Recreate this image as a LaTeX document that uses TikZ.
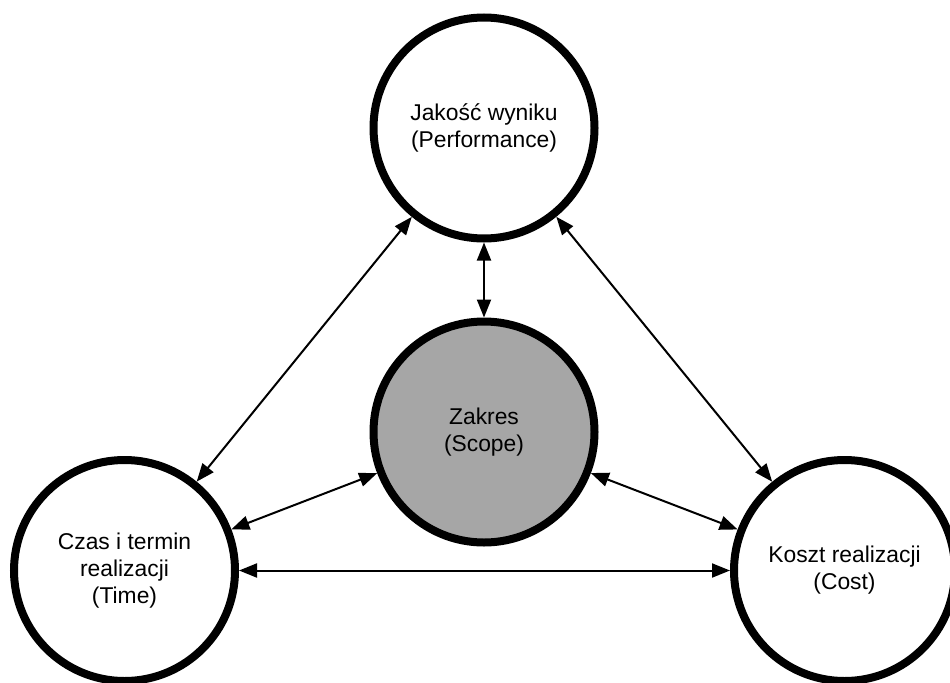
\documentclass[tikz,border=0pt]{standalone}
\usepackage{fontspec}
\setmainfont{Liberation Sans}
\usetikzlibrary{arrows.meta}
\definecolor{scopegray}{RGB}{166,166,166}

\begin{document}
\begin{tikzpicture}[>={Triangle[length=0.36cm, width=0.28cm]}, node distance=6.08cm]
	\tikzstyle{phase} = [draw=black, line width=0.16cm, circle, fill=white, minimum size=4.42cm, inner sep=0pt, align=center, font=\fontsize{13}{15.4}\selectfont]
	\tikzstyle{link} = [<->, line width=0.04cm]

	\useasboundingbox (0,0) rectangle (19,13.64);

	\path
	node[phase, fill=scopegray] (scope) at (9.68,5.0) {Zakres\\(Scope)}
	node[phase, above of=scope] (perf) {Jakość wyniku\\(Performance)}
	node[phase, left of=scope, xshift=-1.11cm, yshift=-2.77cm] (time) {Czas i termin\\realizacji\\(Time)}
	node[phase, right of=scope, xshift=1.13cm, yshift=-2.77cm] (cost) {Koszt realizacji\\(Cost)}
	;

	\path[link]
	(perf) edge (scope)
	(perf) edge (time)
	(perf) edge (cost)
	(scope) edge (time)
	(scope) edge (cost)
	(time) edge (cost)
	;
\end{tikzpicture}
\end{document}
